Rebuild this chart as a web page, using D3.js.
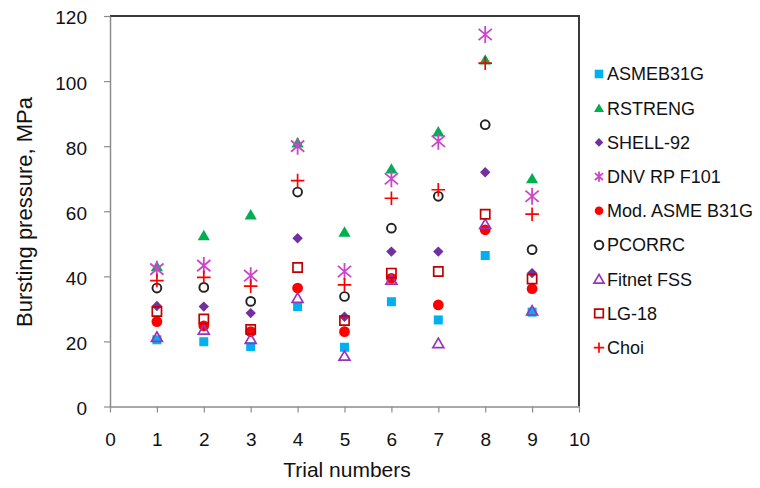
<!DOCTYPE html>
<html><head><meta charset="utf-8">
<script src="https://cdn.jsdelivr.net/npm/d3@7"></script>
<style>body{margin:0;background:#fff}svg{display:block;font-family:"Liberation Sans",Arial,sans-serif}</style>
</head><body><svg id="c" width="760" height="488"></svg>
<script>
const trials = [1,2,3,4,5,6,7,8,9];
const xTicks = [0,1,2,3,4,5,6,7,8,9,10];
const yTicks = [0,20,40,60,80,100,120];
const seriesNames = ["ASMEB31G","RSTRENG","SHELL-92","DNV RP F101","Mod. ASME B31G","PCORRC","Fitnet FSS","LG-18","Choi"];
const asme    = [20.5, 19.9, 18.4, 30.7, 18.2, 32.2, 26.6, 46.4, 29.0];
const rstreng = [43.0, 52.5, 58.9, 81.0, 53.6, 73.0, 84.4, 106.5, 70.0];
const shell   = [30.9, 30.7, 28.7, 51.7, 27.6, 47.6, 47.6, 72.0, 41.0];
const dnv     = [42.2, 43.3, 40.2, 80.0, 41.5, 70.0, 81.5, 114.3, 64.6];
const modAsme = [26.1, 24.8, 23.0, 36.4, 23.0, 39.4, 31.2, 54.3, 36.2];
const pcorrc  = [36.4, 36.6, 32.3, 65.9, 33.8, 54.8, 64.6, 86.6, 48.2];
const fitnet  = [21.3, 23.5, 20.7, 33.3, 15.5, 38.9, 19.4, 56.0, 29.4];
const lg18    = [29.2, 26.9, 23.7, 42.7, 26.4, 41.0, 41.5, 59.1, 39.2];
const choi    = [38.7, 39.7, 37.0, 69.4, 37.4, 64.0, 66.6, 105.5, 59.1];
const seriesValues = [asme, rstreng, shell, dnv, modAsme, pcorrc, fitnet, lg18, choi];

const styles = [
  {shape:"square",   fill:"#00B0F0", stroke:"none", r:4.5},
  {shape:"triangle", fill:"#00B050", stroke:"none", r:5.8},
  {shape:"diamond",  fill:"#7030A0", stroke:"none", r:5.2},
  {shape:"star",     fill:"none", stroke:"#CC44CC", r:8.5, sw:1.8},
  {shape:"circle",   fill:"#FF0000", stroke:"none", r:5.4},
  {shape:"circle",   fill:"none", stroke:"#222", r:4.4, sw:1.9},
  {shape:"triangle", fill:"none", stroke:"#9933BB", r:5.2, sw:1.7},
  {shape:"square",   fill:"none", stroke:"#C00000", r:4.6, sw:1.7},
  {shape:"plus",     fill:"none", stroke:"#FF0000", r:6.8, sw:1.7}
];

function markerPath(shape, r){
  switch(shape){
    case "square": return `M${-r},${-r}H${r}V${r}H${-r}Z`;
    case "triangle": return `M0,${-r}L${r*1.05},${r*0.8}L${-r*1.05},${r*0.8}Z`;
    case "diamond": return `M0,${-r}L${r},0L0,${r}L${-r},0Z`;
    case "star": {const a=r*0.78; return `M${-a},${-a*0.85}L${a},${a*0.85}M${a},${-a*0.85}L${-a},${a*0.85}M0,${-r}V${r}`;}
    case "plus": return `M${-r},0H${r}M0,${-r}V${r}`;
    case "circle": return `M${r},0A${r},${r} 0 1,1 ${-r},0A${r},${r} 0 1,1 ${r},0Z`;
  }
}

const svg = d3.select("#c");
const x = d3.scaleLinear().domain([0,10]).range([110,579]);
const y = d3.scaleLinear().domain([0,120]).range([406.5,16]);

// frame top/right
svg.append("path").attr("d",`M${x(0)},${y(120)}H${x(10)}V${y(0)}`)
  .attr("fill","none").attr("stroke","#3a3a3a").attr("stroke-width",2);

const gy = svg.append("g").attr("transform",`translate(${x(0)},0)`)
  .call(d3.axisLeft(y).tickValues(yTicks).tickSize(6).tickSizeOuter(0).tickFormat(d3.format("d")));
const gx = svg.append("g").attr("transform",`translate(0,${y(0)})`)
  .call(d3.axisBottom(x).tickValues(xTicks).tickSize(6).tickSizeOuter(0).tickFormat(d3.format("d")));
[gy,gx].forEach(g=>{
  g.select(".domain").attr("stroke","#8c8c8c").attr("stroke-width",1.5);
  g.selectAll(".tick line").attr("stroke","#8c8c8c").attr("stroke-width",1.2);
  g.selectAll(".tick text").attr("fill","#111").style("font-size","19px").style("font-family","Liberation Sans, Arial, sans-serif");
});
gy.selectAll(".tick text").attr("x",-23).attr("dy","0.42em");
gx.selectAll(".tick text").attr("y",26).attr("dy","0.71em");

svg.append("text").attr("x",347).attr("y",477).attr("text-anchor","middle")
  .style("font-size","21px").attr("fill","#111").text("Trial numbers");
svg.append("text").attr("transform","translate(32,212) rotate(-90)").attr("text-anchor","middle")
  .style("font-size","22px").attr("fill","#111").text("Bursting pressure, MPa");

// points
seriesValues.forEach((vals,i)=>{
  const st = styles[i];
  svg.append("g").selectAll("path").data(vals).join("path")
    .attr("transform",(d,j)=>`translate(${x(trials[j])},${y(d)})`)
    .attr("d",markerPath(st.shape,st.r))
    .attr("fill",st.fill).attr("stroke",st.stroke).attr("stroke-width",st.sw||0);
});

// legend
const lg = svg.append("g");
seriesNames.forEach((name,i)=>{
  const st = styles[i];
  const cy = 74 + i*34.2;
  const r = st.shape==="star"||st.shape==="plus" ? 5.2 : Math.min(st.r,4.3);
  lg.append("path").attr("transform",`translate(599,${cy})`)
    .attr("d",markerPath(st.shape, st.shape==="triangle"?4.8:r))
    .attr("fill",st.fill).attr("stroke",st.stroke).attr("stroke-width",st.sw||0);
  lg.append("text").attr("x",607).attr("y",cy).attr("dy","0.36em")
    .style("font-size","18px").attr("fill","#111").text(name);
});
</script></body></html>
